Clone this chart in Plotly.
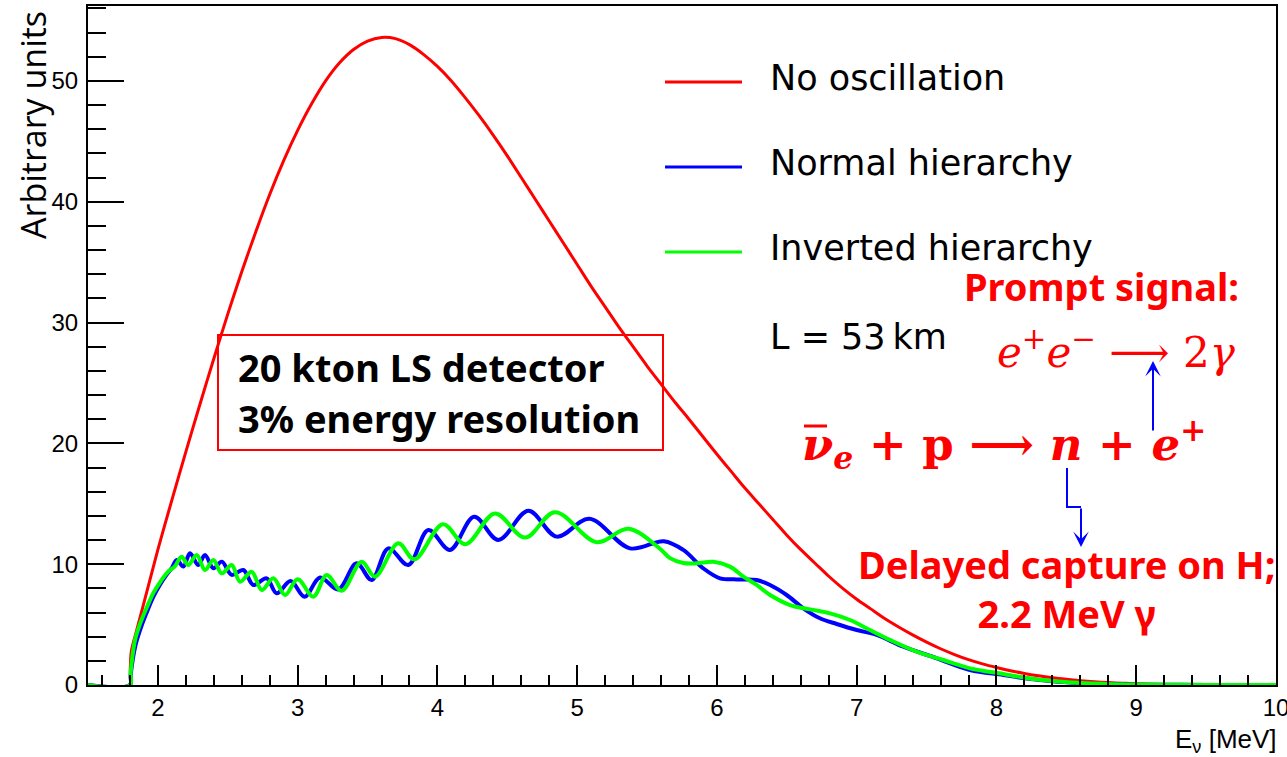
import plotly.graph_objects as go

W, H = 1287, 757
L, R, T, B = 88, 1276, 6, 685


def px(x):
    return (x - L) / (R - L)


def py(y):
    return (B - y) / (B - T)


# ---------------- data ----------------
energy_noosc = [1.5, 1.8, 1.802, 1.81, 1.85, 1.9, 2.0, 2.1, 2.2, 2.3, 2.4, 2.5, 2.6, 2.7, 2.8,
                2.9, 3.0, 3.1, 3.2, 3.3, 3.4, 3.5, 3.6, 3.7, 3.8, 3.9, 4.0, 4.1, 4.2, 4.3,
                4.4, 4.5, 4.6, 4.7, 4.8, 4.9, 5.0, 5.1, 5.2, 5.3, 5.4, 5.5, 5.6, 5.7, 5.8,
                5.9, 6.0, 6.1, 6.2, 6.3, 6.4, 6.5, 6.6, 6.7, 6.8, 6.9, 7.0, 7.1, 7.2, 7.3,
                7.4, 7.5, 7.6, 7.7, 7.8, 7.9, 8.0, 8.1, 8.2, 8.3, 8.4, 8.5, 8.6, 8.7, 8.8,
                8.9, 9.0, 9.2, 9.5, 10.0]
noosc = [0, 0, 1.2, 2.8, 4.6, 6.8, 11.2, 15.3, 19.3, 23.2, 27.0, 30.7, 34.2, 37.5, 40.6,
         43.4, 45.9, 48.1, 50.0, 51.5, 52.6, 53.3, 53.6, 53.5, 53.0, 52.2, 51.2, 50.0, 48.6, 47.1,
         45.5, 43.8, 42.0, 40.2, 38.4, 36.6, 34.8, 33.0, 31.3, 29.6, 28.0, 26.4, 24.9, 23.4, 22.0,
         20.55, 19.1, 17.7, 16.3, 15.0, 13.7, 12.4, 11.2, 10.1, 9.0, 8.0, 7.1, 6.3, 5.5, 4.8,
         4.15, 3.55, 3.0, 2.52, 2.1, 1.75, 1.45, 1.18, 0.95, 0.76, 0.6, 0.47, 0.36, 0.27, 0.2,
         0.15, 0.1, 0.05, 0.015, 0]

energy_nh = [1.5, 1.8, 1.805, 1.84, 1.88, 1.92, 1.967, 2.015, 2.06, 2.10, 2.135, 2.182, 2.230,
             2.289, 2.337, 2.397, 2.457, 2.528, 2.611, 2.683, 2.778, 2.85, 2.95, 3.05, 3.16,
             3.29, 3.422, 3.53, 3.649, 3.792, 3.935, 4.09, 4.263, 4.436, 4.651, 4.854, 5.086,
             5.378, 5.62, 5.759, 5.902, 6.022, 6.141, 6.284, 6.38, 6.499, 6.618, 6.737, 6.857,
             7.0, 7.143, 7.334, 7.573, 7.811, 8.049, 8.2, 8.4, 8.6, 8.8, 9.0, 9.5, 10.0]
nh = [0, 0, 0.8, 3.3, 4.8, 6.0, 7.3, 8.3, 9.1, 9.7, 10.35, 9.8, 10.9,
      9.93, 10.76, 9.66, 10.21, 9.11, 9.52, 8.28, 8.83, 7.59, 8.6, 7.3, 8.9,
      7.9, 10.07, 8.69, 11.31, 9.93, 12.83, 11.18, 13.93, 12.0, 14.43, 12.28, 13.75,
      11.31, 11.9, 11.18, 9.66, 8.83, 8.74, 8.69, 8.28, 7.45, 6.35, 5.52, 5.05,
      4.55, 4.14, 3.17, 2.21, 1.24, 0.83, 0.55, 0.3, 0.15, 0.07, 0.03, 0.01, 0]

energy_ih = [1.5, 1.8, 1.805, 1.836, 1.88, 1.92, 1.967, 2.015, 2.075, 2.12, 2.170, 2.217, 2.278,
             2.337, 2.397, 2.457, 2.528, 2.588, 2.671, 2.743, 2.826, 2.910, 3.0, 3.112, 3.208,
             3.315, 3.458, 3.553, 3.72, 3.835, 4.04, 4.2, 4.412, 4.627, 4.841, 5.139, 5.366,
             5.59, 5.664, 5.759, 5.855, 5.974, 6.093, 6.189, 6.284, 6.38, 6.523, 6.666, 6.809,
             6.952, 7.095, 7.238, 7.429, 7.62, 7.811, 8.049, 8.2, 8.4, 8.6, 8.8, 9.0, 9.5, 10.0]
ih = [0, 0, 1.0, 3.7, 5.3, 6.4, 7.6, 8.5, 9.4, 9.8, 10.62, 9.93, 10.76,
      9.52, 10.35, 9.24, 9.93, 8.55, 9.38, 7.86, 8.83, 7.45, 8.76, 7.31, 9.11,
      7.8, 10.21, 8.97, 11.73, 10.4, 13.3, 11.65, 14.2, 12.2, 14.3, 11.82, 12.93,
      11.3, 10.5, 10.1, 10.07, 10.2, 9.8, 8.97, 8.28, 7.45, 6.62, 6.26, 5.93,
      5.38, 4.55, 3.73, 2.76, 2.07, 1.38, 0.91, 0.6, 0.33, 0.17, 0.08, 0.04, 0.01, 0]

x_ticks = [2, 3, 4, 5, 6, 7, 8, 9, 10]
y_ticks = [0, 10, 20, 30, 40, 50]

legend_labels = ["No oscillation", "Normal hierarchy", "Inverted hierarchy"]
legend_colors = ["#ff0000", "#0000ff", "#00ff00"]

# ---------------- figure ----------------
fig = go.Figure()
fig.add_trace(go.Scatter(x=energy_noosc, y=noosc, mode="lines", name=legend_labels[0],
                         line=dict(color=legend_colors[0], width=3, shape="spline", smoothing=0.8),
                         showlegend=False, hoverinfo="skip"))
fig.add_trace(go.Scatter(x=energy_nh, y=nh, mode="lines", name=legend_labels[1],
                         line=dict(color=legend_colors[1], width=4, shape="spline", smoothing=1.0),
                         showlegend=False, hoverinfo="skip"))
fig.add_trace(go.Scatter(x=energy_ih, y=ih, mode="lines", name=legend_labels[2],
                         line=dict(color=legend_colors[2], width=4, shape="spline", smoothing=1.0),
                         showlegend=False, hoverinfo="skip"))

tick_font = dict(family="Liberation Sans, Arial, sans-serif", size=24, color="black")

fig.update_xaxes(range=[1.5, 10], tickvals=x_ticks, ticktext=[str(v) for v in x_ticks],
                 ticks="inside", ticklen=20, tickwidth=1.5, tickcolor="black",
                 minor=dict(ticks="inside", ticklen=10, tickwidth=1.5, tickcolor="black", dtick=0.2, tick0=0),
                 showline=True, linecolor="black", linewidth=2, mirror=True,
                 showgrid=False, zeroline=False, tickfont=tick_font, ticklabelstandoff=0,
                 ticklabeloverflow="allow", automargin=False)
fig.update_yaxes(range=[0, 56.2], tickvals=y_ticks, ticktext=[str(v) for v in y_ticks],
                 ticks="inside", ticklen=36, tickwidth=1.5, tickcolor="black",
                 minor=dict(ticks="inside", ticklen=18, tickwidth=1.5, tickcolor="black", dtick=2, tick0=0),
                 showline=True, linecolor="black", linewidth=2, mirror=True,
                 showgrid=False, zeroline=False, tickfont=tick_font, ticklabelstandoff=3,
                 ticklabeloverflow="allow", automargin=False)

shapes = []
annotations = []

# axis titles
annotations.append(dict(x=px(33), y=py(125), xref="paper", yref="paper", text="Arbitrary units",
                        textangle=-90, showarrow=False, xanchor="center", yanchor="middle",
                        font=dict(family="Open Sans, sans-serif", size=34, color="black")))
annotations.append(dict(x=px(1279), y=py(740), xref="paper", yref="paper",
                        text="E<sub>ν</sub> [MeV]", showarrow=False, xanchor="right", yanchor="middle",
                        font=dict(family="Liberation Sans, Arial, sans-serif", size=26, color="black")))

# legend (manual)
legend_y = [78, 163, 248]
for lab, col, yy in zip(legend_labels, legend_colors, legend_y):
    shapes.append(dict(type="line", xref="paper", yref="paper", x0=px(665), x1=px(742),
                       y0=py(yy + 4), y1=py(yy + 4), line=dict(color=col, width=3)))
    annotations.append(dict(x=px(768), y=py(yy), xref="paper", yref="paper", text=lab,
                            showarrow=False, xanchor="left", yanchor="middle",
                            font=dict(family="DejaVu Sans, sans-serif", size=35, color="black")))
annotations.append(dict(x=px(768), y=py(337), xref="paper", yref="paper", text="L = 53\u2009km",
                        showarrow=False, xanchor="left", yanchor="middle",
                        font=dict(family="DejaVu Sans, sans-serif", size=35, color="black")))

# detector box
shapes.append(dict(type="rect", xref="paper", yref="paper", x0=px(218), x1=px(663),
                   y0=py(450), y1=py(335), line=dict(color="#ff0000", width=2)))
box_font = dict(family="Noto Sans, Open Sans, sans-serif", size=38, color="black")
annotations.append(dict(x=px(236), y=py(367), xref="paper", yref="paper",
                        text="<b>20 kton LS detector</b>", showarrow=False,
                        xanchor="left", yanchor="middle", font=box_font))
annotations.append(dict(x=px(236), y=py(418), xref="paper", yref="paper",
                        text="<b>3% energy resolution</b>", showarrow=False,
                        xanchor="left", yanchor="middle", font=box_font))

# red reaction texts
red_font = dict(family="Noto Sans, Open Sans, sans-serif", size=38, color="#ff0000")
annotations.append(dict(x=px(1101), y=py(286), xref="paper", yref="paper",
                        text="<b>Prompt signal:</b>", showarrow=False,
                        xanchor="center", yanchor="middle", font=red_font))
annotations.append(dict(x=px(1066), y=py(588), xref="paper", yref="paper",
                        text="<b>Delayed capture on H;<br>2.2 MeV γ</b>", showarrow=False,
                        xanchor="center", yanchor="middle", align="center", font=red_font))

annotations.append(dict(x=px(995), y=py(349), xref="paper", yref="paper",
                        text="<i>e</i><sup>+</sup><i>e</i><sup>\u2212</sup> \u27f6 2<i>γ</i>",
                        showarrow=False, xanchor="left", yanchor="middle",
                        font=dict(family="DejaVu Serif, serif", size=42, color="#ff0000")))

annotations.append(dict(x=px(800), y=py(444), xref="paper", yref="paper",
                        text="<b><i>ν</i></b><sub><b><i>e</i></b></sub><b> + p \u27f6 <i>n</i> + <i>e</i></b><sup><b>+</b></sup>",
                        showarrow=False, xanchor="left", yanchor="middle",
                        font=dict(family="DejaVu Serif, serif", size=45, color="#ff0000")))
shapes.append(dict(type="line", xref="paper", yref="paper", x0=px(804), x1=px(827),
                   y0=py(426), y1=py(426), line=dict(color="#ff0000", width=3)))

# blue arrows
annotations.append(dict(x=px(1153), y=py(361), xref="paper", yref="paper", text="",
                        showarrow=True, ax=0, ay=71, axref="pixel", ayref="pixel",
                        arrowhead=3, arrowsize=1.3, arrowwidth=2, arrowcolor="#0000ff"))
shapes.append(dict(type="path", xref="paper", yref="paper",
                   path=f"M {px(1067)},{py(468)} L {px(1067)},{py(507)} L {px(1081)},{py(507)}",
                   line=dict(color="#0000ff", width=2)))
annotations.append(dict(x=px(1081), y=py(547), xref="paper", yref="paper", text="",
                        showarrow=True, ax=0, ay=-40, axref="pixel", ayref="pixel",
                        arrowhead=3, arrowsize=1.3, arrowwidth=2, arrowcolor="#0000ff"))

fig.update_layout(width=W, height=H, margin=dict(l=L, r=W - R, t=T, b=H - B, autoexpand=False),
                  paper_bgcolor="white", plot_bgcolor="white", showlegend=False,
                  shapes=shapes, annotations=annotations)

fig.write_html("out.html")
